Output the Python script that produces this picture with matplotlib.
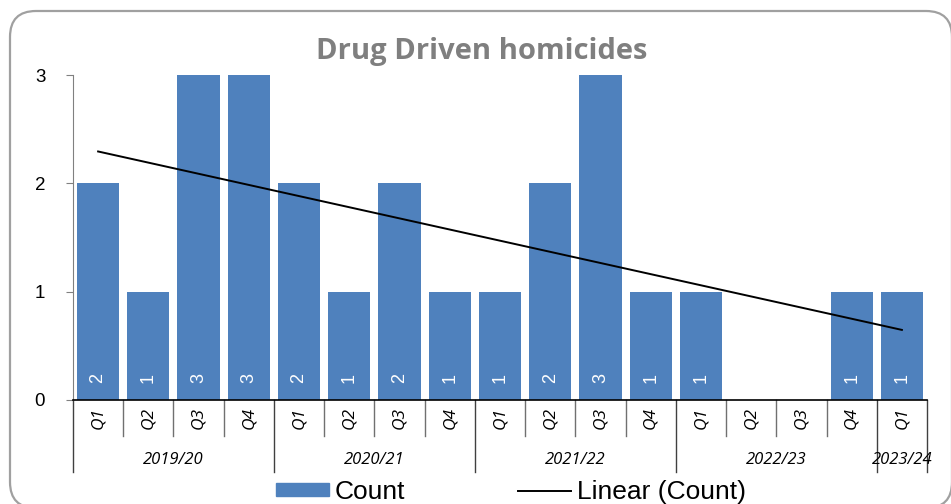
import numpy as np
import matplotlib
matplotlib.use("Agg")
import matplotlib.pyplot as plt
from matplotlib.patches import FancyBboxPatch
from matplotlib.lines import Line2D
from matplotlib.patches import Patch
import matplotlib.transforms as mtransforms

quarters = ["Q1", "Q2", "Q3", "Q4", "Q1", "Q2", "Q3", "Q4", "Q1", "Q2", "Q3", "Q4",
            "Q1", "Q2", "Q3", "Q4", "Q1"]
years = ["2019/20", "2020/21", "2021/22", "2022/23", "2023/24"]
year_sizes = [4, 4, 4, 4, 1]
counts = [2, 1, 3, 3, 2, 1, 2, 1, 1, 2, 3, 1, 1, 0, 0, 1, 1]

BAR = "#4F81BD"
W, H = 951, 504
fig = plt.figure(figsize=(W / 100, H / 100), dpi=100)
ax = fig.add_axes([73 / W, 1 - 400 / H, (927 - 73) / W, (400 - 75) / H])

x = np.arange(len(counts))
bars = ax.bar(x, counts, width=0.84, color=BAR, zorder=2)
for xi, v in zip(x, counts):
    if v > 0:
        ax.text(xi, 0.2, str(v), rotation=90, ha="center", va="center",
                color="white", fontsize=13, family="Liberation Sans", zorder=3)

# linear trend line
coef = np.polyfit(x, counts, 1)
trend = np.polyval(coef, x)
ax.plot(x, trend, color="black", lw=1.4, zorder=4)

ax.set_xlim(-0.5, len(counts) - 0.5)
ax.set_ylim(0, 3)
ax.set_yticks([0, 1, 2, 3])
ax.set_yticklabels(["0", "1", "2", "3"], family="Liberation Sans", fontsize=13.5)
ax.tick_params(axis="y", length=5, color="#808080", pad=15)
ax.set_xticks([])
for s in ["top", "right"]:
    ax.spines[s].set_visible(False)
ax.spines["left"].set_color("#808080")
ax.spines["bottom"].set_color("black")
ax.spines["bottom"].set_linewidth(1.2)

trans = mtransforms.blended_transform_factory(ax.transData, ax.transAxes)
ah = (400 - 75)
q_len = 36 / ah
y_len = 72 / ah
bounds = np.cumsum([0] + year_sizes) - 0.5
for b in np.arange(-0.5, len(counts), 1.0):
    is_year = np.any(np.isclose(bounds, b))
    ln = y_len if is_year else q_len
    ax.plot([b, b], [0, -ln], transform=trans, clip_on=False,
            color="#404040" if is_year else "#707070", lw=1.0)
for xi, q in zip(x, quarters):
    ax.text(xi, -18 / ah, q, transform=trans, rotation=90, ha="center", va="center",
            fontsize=12.5, style="italic", family="Open Sans")
for i, yl in enumerate(years):
    c = (bounds[i] + bounds[i + 1]) / 2
    ax.text(c, -60 / ah, yl, transform=trans, ha="center", va="center",
            fontsize=12, style="italic", family="Open Sans")

fig.text(482 / W, 1 - 52 / H, "Drug Driven homicides", ha="center", va="center",
         fontsize=21, fontweight="bold", color="#7F7F7F", family="Open Sans")

border = FancyBboxPatch((10, -4), 942, 504 + 4 - 11,
                        boxstyle="round,pad=0,rounding_size=26",
                        transform=None, fill=False, edgecolor="#A0A0A0", lw=1.6)
fig.patches.append(border)

handles = [Patch(facecolor=BAR, edgecolor=BAR),
           Line2D([0], [0], color="black", lw=1.4)]
fig.legend(handles, ["Count", "Linear (Count)"], loc="center", ncol=2,
           bbox_to_anchor=(511 / W, 1 - 492 / H), frameon=False,
           prop={"family": "Liberation Sans", "size": 19},
           handlelength=2.0, handleheight=0.4, handletextpad=0.2, columnspacing=4.3,
           borderpad=0, borderaxespad=0)

fig.savefig("out.png", dpi=100)
